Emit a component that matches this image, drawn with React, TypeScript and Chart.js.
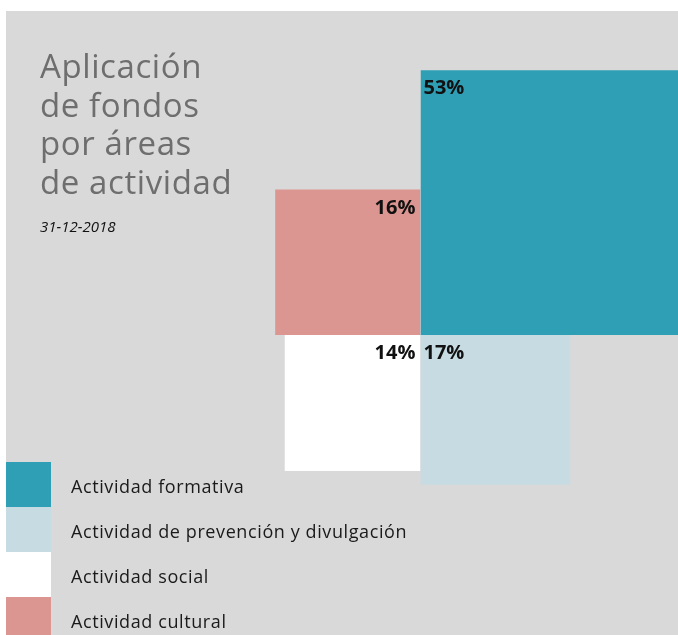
import React, { useEffect, useRef } from "react";
import { Chart, registerables } from "chart.js";

Chart.register(...registerables);

// ---- data ----
const categories = [
  "Actividad formativa",
  "Actividad de prevención y divulgación",
  "Actividad social",
  "Actividad cultural",
];
const values = [53, 17, 14, 16];
const colors = ["#2e9fb5", "#c6dbe2", "#ffffff", "#db9691"];
// quadrant of each square around the common corner (x dir, y dir)
const quadX = [1, 1, -1, -1];
const quadY = [1, -1, -1, 1];
const titleLines = ["Aplicación", "de fondos", "por áreas", "de actividad"];
const subtitle = "31-12-2018";

const FONT = "'Open Sans', 'DejaVu Sans', sans-serif";

const labelPlugin = {
  id: "squareLabels",
  afterDatasetsDraw(chart: any) {
    const ctx = chart.ctx;
    const xs = chart.scales.x;
    const ys = chart.scales.y;
    ctx.save();
    ctx.font = `bold 20px ${FONT}`;
    ctx.fillStyle = "#111111";
    ctx.textBaseline = "alphabetic";
    values.forEach((v, i) => {
      const s = Math.sqrt(v);
      const cx = xs.getPixelForValue(0);
      const top = Math.min(ys.getPixelForValue(0), ys.getPixelForValue(quadY[i] * s));
      const y = top + 24;
      if (quadX[i] > 0) {
        ctx.textAlign = "left";
        ctx.fillText(v + "%", cx + 3, y);
      } else {
        ctx.textAlign = "right";
        ctx.fillText(v + "%", cx - 5, y);
      }
    });
    ctx.restore();
  },
};

export default function App() {
  const ref = useRef<HTMLCanvasElement>(null);
  useEffect(() => {
    if (!ref.current) return;
    const K = 36.35; // px per sqrt-unit
    const cxPx = 414.5;
    const cyPx = 324;
    const W = 672;
    const H = 624;
    const chart = new Chart(ref.current, {
      type: "line",
      data: {
        datasets: values.map((v, i) => {
          const s = Math.sqrt(v);
          return {
            label: categories[i],
            data: [
              { x: 0, y: quadY[i] * s },
              { x: quadX[i] * s, y: quadY[i] * s },
            ],
            backgroundColor: colors[i],
            borderColor: colors[i],
            borderWidth: 0,
            pointRadius: 0,
            fill: "origin",
            tension: 0,
          };
        }),
      },
      options: {
        animation: false,
        responsive: true,
        maintainAspectRatio: false,
        layout: { padding: 0 },
        plugins: {
          legend: { display: false },
          tooltip: { enabled: false },
          title: { display: false },
        },
        scales: {
          x: { type: "linear", display: false, min: -cxPx / K, max: (W - cxPx) / K },
          y: { type: "linear", display: false, min: -(H - cyPx) / K, max: cyPx / K },
        },
      },
      plugins: [labelPlugin],
    } as any);
    return () => chart.destroy();
  }, []);

  return (
    <div
      style={{
        position: "absolute",
        left: 6,
        top: 11,
        width: 672,
        height: 624,
        background: "#d9d9d9",
        overflow: "hidden",
        fontFamily: FONT,
      }}
    >
      <div style={{ position: "absolute", left: 0, top: 0, width: 672, height: 624 }}>
        <canvas ref={ref} />
      </div>
      <div
        style={{
          position: "absolute",
          left: 34,
          top: 36,
          fontSize: 33,
          lineHeight: "38.67px",
          letterSpacing: "0.6px",
          color: "#6e6e6e",
          whiteSpace: "nowrap",
        }}
      >
        {titleLines.map((t) => (
          <div key={t}>{t}</div>
        ))}
      </div>
      <div
        style={{
          position: "absolute",
          left: 34,
          top: 205,
          fontSize: 15,
          lineHeight: "20px",
          fontStyle: "italic",
          color: "#111",
        }}
      >
        {subtitle}
      </div>
      <div style={{ position: "absolute", left: 0, top: 451 }}>
        {categories.map((c, i) => (
          <div key={c} style={{ display: "flex", alignItems: "center", height: 45 }}>
            <div style={{ width: 45, height: 45, background: colors[i] }} />
            <div
              style={{
                marginLeft: 20,
                paddingTop: 3,
                fontSize: 18,
                letterSpacing: "0.6px",
                color: "#1a1a1a",
                whiteSpace: "nowrap",
              }}
            >
              {c}
            </div>
          </div>
        ))}
      </div>
    </div>
  );
}
